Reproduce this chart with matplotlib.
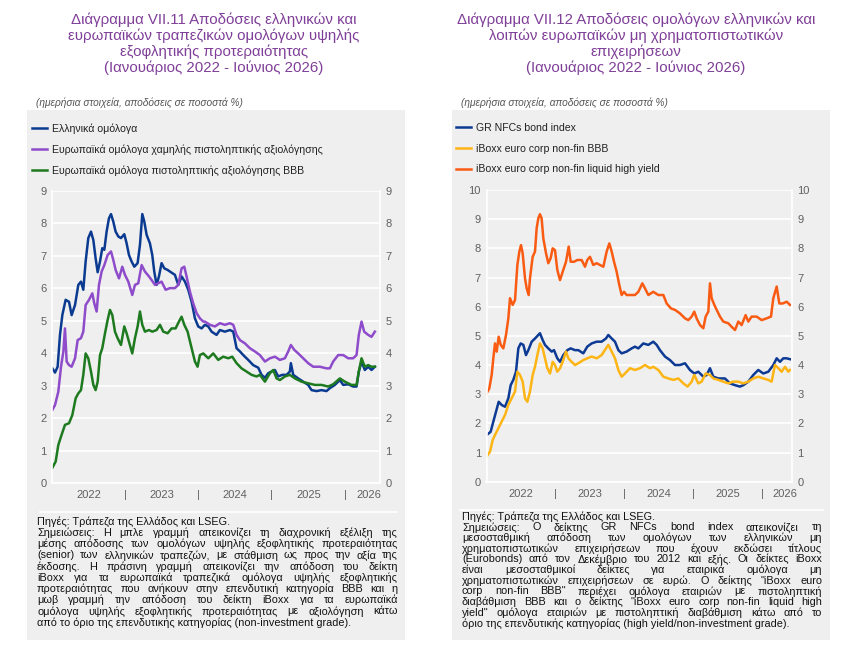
import numpy as np
import matplotlib
matplotlib.use("Agg")
import matplotlib.pyplot as plt
from matplotlib.patches import Rectangle
from matplotlib.lines import Line2D

plt.rcParams['font.family'] = ['Liberation Sans', 'DejaVu Sans']

# ---------------- data (years since Jan 2022, yield %) ----------------
# chart VII.11
gr_bank_t = [0.005,0.041,0.077,0.109,0.141,0.186,0.232,0.268,0.314,0.359,0.395,0.427,0.459,0.495,0.532,0.564,
             0.595,0.623,0.655,0.686,0.714,0.745,0.777,0.805,0.836,0.868,0.905,0.941,0.986,1.018,1.05,1.086,
             1.123,1.168,1.2,1.232,1.259,1.291,1.336,1.368,1.395,1.427,1.459,1.495,1.532,1.577,1.623,1.677,
             1.723,1.768,1.814,1.859,1.905,1.95,1.995,2.041,
             2.086,2.132,2.177,2.245,2.291,2.359,2.427,2.473,2.518,2.564,2.609,2.677,2.745,2.814,2.859,2.905,
             2.95,2.995,3.041,3.086,3.141,3.2,3.245,3.259,3.291,3.359,3.427,3.495,3.541,3.609,3.677,3.745,
             3.791,3.859,3.927,3.973,4.041,4.109,4.155,4.186,4.223,4.268,4.314,4.359,4.405]
gr_bank_v = [3.53,3.4,3.58,4.56,5.17,5.64,5.58,5.17,5.48,6.1,6.2,5.95,6.82,7.54,7.74,7.48,
             6.92,6.49,6.82,7.23,7.18,7.74,8.15,8.28,8.05,7.74,7.59,7.54,7.66,7.38,7.02,6.82,
             6.66,6.77,7.33,8.28,8.05,7.64,7.38,7.02,6.51,6.1,6.36,6.77,6.61,6.56,6.49,6.41,
             6.1,6.36,6.2,5.95,5.58,5.07,4.82,4.76,
             4.87,4.82,4.66,4.56,4.71,4.66,4.71,4.66,4.15,4.05,3.94,3.79,3.63,3.55,3.33,3.24,
             3.38,3.43,3.48,3.28,3.33,3.33,3.43,3.69,3.33,3.22,3.12,3.02,2.86,2.83,2.86,2.83,
             2.92,3.02,3.17,3.02,3.04,2.97,2.97,3.43,3.74,3.48,3.58,3.48,3.58]

eu_hy_t = [0.005,0.041,0.086,0.123,0.155,0.177,0.2,0.232,0.268,0.314,0.35,0.395,0.427,0.459,0.505,0.55,
           0.577,0.609,0.641,0.677,0.714,0.759,0.805,0.836,0.868,0.914,0.959,0.995,1.041,1.095,1.132,1.177,
           1.223,1.268,1.323,1.359,1.405,1.45,1.495,1.55,1.609,1.677,1.723,1.768,1.805,1.836,1.882,1.927,
           1.973,2.018,2.064,
           2.086,2.155,2.223,2.291,2.359,2.427,2.473,2.518,2.564,2.632,2.7,2.768,2.836,2.905,2.973,3.041,
           3.109,3.177,3.223,3.259,3.305,3.359,3.427,3.495,3.564,3.655,3.745,3.791,3.836,3.905,3.973,4.041,
           4.109,4.155,4.186,4.223,4.259,4.314,4.359,4.405]
eu_hy_v = [2.25,2.4,2.81,3.58,4.05,4.76,3.74,3.63,3.58,3.84,4.4,4.46,4.66,5.48,5.64,5.84,
           5.53,5.28,6.1,6.51,6.71,7.02,7.13,6.87,6.56,6.3,6.66,6.41,6.2,5.79,6.1,6.15,
           6.71,6.51,6.36,6.25,6.1,6.15,6.2,5.95,6.0,6.0,6.1,6.61,6.66,6.36,5.89,5.53,
           5.23,5.07,4.97,
           4.97,4.87,4.82,4.92,4.87,4.92,4.87,4.56,4.4,4.3,4.15,4.05,3.94,3.74,3.84,3.89,
           3.79,3.84,4.05,4.25,4.1,3.99,3.84,3.69,3.58,3.58,3.53,3.53,3.74,3.94,3.94,3.84,
           3.84,3.94,4.56,4.97,4.66,4.56,4.5,4.66]

eu_bbb_t = [0.005,0.05,0.086,0.123,0.177,0.232,0.277,0.323,0.359,0.395,0.427,0.459,0.495,0.532,0.564,0.595,
            0.623,0.655,0.686,0.723,0.759,0.791,0.823,0.859,0.895,0.941,0.986,1.018,1.05,1.095,1.132,1.168,
            1.2,1.232,1.268,1.323,1.368,1.427,1.473,1.518,1.577,1.632,1.686,1.732,1.768,1.805,1.85,1.905,
            1.95,1.986,2.018,2.064,
            2.086,2.132,2.2,2.268,2.336,2.405,2.459,2.518,2.586,2.655,2.723,2.791,2.836,2.905,2.973,3.018,
            3.064,3.109,3.177,3.245,3.314,3.405,3.495,3.586,3.677,3.768,3.836,3.927,3.995,4.086,4.155,4.186,
            4.223,4.268,4.314,4.359,4.405]
eu_bbb_v = [0.47,0.66,1.17,1.43,1.79,1.84,2.09,2.61,2.76,2.86,3.33,3.99,3.84,3.43,3.02,2.86,
            3.12,3.94,4.15,4.61,5.02,5.33,5.17,4.66,4.46,4.25,4.82,4.61,4.35,3.99,4.46,4.82,
            5.28,4.87,4.66,4.71,4.66,4.71,4.87,4.66,4.61,4.76,4.76,4.97,5.12,4.87,4.66,4.15,
            3.74,3.58,3.94,3.99,
            3.94,3.84,3.99,3.79,3.89,3.84,3.89,3.69,3.53,3.43,3.33,3.28,3.33,3.12,3.38,3.48,
            3.22,3.17,3.28,3.33,3.22,3.12,3.07,3.02,3.02,2.97,3.04,3.22,3.12,3.02,3.02,3.43,
            3.84,3.58,3.63,3.58,3.58]

# chart VII.12
gr_nfc_t = [0.002,0.06,0.099,0.138,0.177,0.22,0.269,0.317,0.351,0.389,0.428,0.462,0.496,0.535,0.573,0.607,
            0.656,0.704,0.752,0.776,0.815,0.849,0.897,0.946,0.98,1.028,1.067,1.115,1.173,1.222,1.284,1.333,
            1.405,1.463,1.526,1.599,1.671,1.734,1.768,1.817,1.865,1.914,1.962,2.034,2.107,
            2.155,2.204,2.276,2.349,2.421,2.47,2.518,2.591,2.663,2.736,2.808,2.881,2.953,3.016,3.074,3.147,
            3.196,3.244,3.292,3.365,3.461,3.534,3.607,3.679,3.728,3.8,3.873,3.945,4.018,4.09,4.163,4.212,
            4.26,4.308,4.357,4.405]
gr_nfc_v = [1.6,1.71,2.06,2.4,2.74,2.63,2.57,2.86,3.31,3.49,3.77,4.57,4.74,4.69,4.34,4.51,
            4.8,4.91,5.03,5.09,4.86,4.69,4.57,4.46,4.51,4.23,4.11,4.34,4.51,4.57,4.51,4.51,
            4.4,4.63,4.74,4.8,4.8,4.91,5.03,4.91,4.8,4.51,4.4,4.46,4.57,
            4.63,4.57,4.74,4.69,4.8,4.69,4.51,4.29,4.17,4.0,4.0,4.06,3.83,3.71,3.77,3.6,
            3.66,3.89,3.6,3.54,3.54,3.37,3.31,3.26,3.31,3.43,3.66,3.83,3.71,3.77,4.0,4.23,
            4.11,4.23,4.23,4.2]

ibx_bbb_t = [0.002,0.051,0.09,0.123,0.172,0.22,0.269,0.317,0.365,0.414,0.448,0.486,0.525,0.559,0.593,0.631,
             0.67,0.704,0.738,0.776,0.815,0.849,0.883,0.922,0.96,0.994,1.028,1.067,1.106,1.154,1.188,1.236,
             1.284,1.333,1.405,1.463,1.526,1.599,1.671,1.734,1.768,1.817,1.865,1.914,1.962,2.01,2.083,
             2.155,2.228,2.3,2.373,2.421,2.494,2.567,2.639,2.712,2.784,2.857,2.919,2.978,3.016,3.074,3.123,
             3.181,3.244,3.292,3.365,3.437,3.51,3.582,3.655,3.728,3.8,3.873,3.945,4.018,4.09,4.139,4.187,
             4.236,4.284,4.333,4.381,4.405]
ibx_bbb_v = [0.86,1.03,1.43,1.6,1.83,2.06,2.29,2.63,2.86,3.09,3.77,3.66,3.43,2.86,2.74,3.09,
             3.66,3.94,4.34,4.74,4.57,4.23,3.89,3.71,4.11,4.0,3.77,3.89,4.11,4.46,4.23,4.11,
             4.0,4.06,4.17,4.23,4.29,4.23,4.34,4.57,4.69,4.46,4.23,3.83,3.6,3.71,3.89,
             3.83,3.89,4.0,3.89,3.94,3.83,3.6,3.54,3.49,3.54,3.37,3.26,3.43,3.66,3.37,3.43,
             3.71,3.66,3.54,3.49,3.43,3.37,3.43,3.43,3.37,3.43,3.54,3.6,3.54,3.49,3.43,4.0,
             3.89,3.77,3.94,3.77,3.83]

ibx_hy_t = [0.002,0.041,0.075,0.099,0.123,0.148,0.177,0.206,0.244,0.283,0.317,0.341,0.38,0.414,0.448,0.477,
            0.501,0.525,0.559,0.583,0.612,0.631,0.67,0.704,0.728,0.752,0.776,0.8,0.825,0.864,0.897,0.931,
            0.96,0.994,1.028,1.067,1.106,1.154,1.193,1.222,1.27,1.318,1.381,1.43,1.463,1.502,1.55,1.599,
            1.647,1.696,1.744,1.783,1.817,1.851,1.889,1.928,1.962,1.996,2.034,2.107,
            2.155,2.204,2.262,2.3,2.349,2.421,2.494,2.567,2.615,2.678,2.736,2.808,2.881,2.929,2.978,3.016,
            3.05,3.099,3.147,3.181,3.22,3.244,3.268,3.307,3.341,3.389,3.437,3.51,3.558,3.607,3.655,3.703,
            3.761,3.8,3.849,3.921,3.994,4.066,4.129,4.163,4.212,4.25,4.299,4.357,4.405]
ibx_hy_v = [3.03,3.2,3.66,4.23,4.74,4.46,4.97,4.69,4.57,5.03,5.6,6.29,6.06,6.23,7.43,7.89,
            8.11,7.83,6.97,6.63,6.4,6.97,7.71,7.89,8.69,9.03,9.17,9.03,8.34,7.83,7.49,7.66,
            8.0,7.94,7.26,6.91,7.2,7.54,8.06,7.54,7.54,7.6,7.6,7.37,7.6,7.71,7.43,7.49,
            7.43,7.37,7.89,8.17,7.89,7.54,7.2,6.74,6.4,6.51,6.4,6.4,
            6.4,6.51,6.8,6.63,6.4,6.51,6.4,6.4,6.11,5.94,5.89,5.77,5.6,5.54,5.66,5.83,
            5.6,5.37,5.26,5.66,5.83,6.8,6.29,6.06,5.89,5.66,5.49,5.43,5.31,5.2,5.49,5.37,
            5.71,5.49,5.66,5.66,5.54,5.6,5.66,6.29,6.69,6.11,6.11,6.17,6.06]

year_ticks = [0.5, 1.0, 1.5, 2.0, 2.5, 3.0, 3.5, 4.0, 4.33]
year_labels = ['2022', '|', '2023', '|', '2024', '|', '2025', '|', '2026']

labels_11 = ['Ελληνικά ομόλογα',
             'Ευρωπαϊκά ομόλογα χαμηλής πιστοληπτικής αξιολόγησης',
             'Ευρωπαϊκά ομόλογα πιστοληπτικής αξιολόγησης BBB']
labels_12 = ['GR NFCs bond index', 'iBoxx euro corp non-fin BBB', 'iBoxx euro corp non-fin liquid high yield']

title_11 = ('Διάγραμμα VII.11 Αποδόσεις ελληνικών και\nευρωπαϊκών τραπεζικών ομολόγων υψηλής\n'
            'εξοφλητικής προτεραιότητας\n(Ιανουάριος 2022 - Ιούνιος 2026)')
title_12 = ('Διάγραμμα VII.12 Αποδόσεις ομολόγων ελληνικών και\nλοιπών ευρωπαϊκών μη χρηματοπιστωτικών\n'
            'επιχειρήσεων\n(Ιανουάριος 2022 - Ιούνιος 2026)')
subtitle = '(ημερήσια στοιχεία, αποδόσεις σε ποσοστά %)'

notes_11 = ['Πηγές: Τράπεζα της Ελλάδος και LSEG.',
            'Σημειώσεις: Η μπλε γραμμή απεικονίζει τη διαχρονική εξέλιξη της',
            'μέσης απόδοσης των ομολόγων υψηλής εξοφλητικής προτεραιότητας',
            '(senior) των ελληνικών τραπεζών, με στάθμιση ως προς την αξία της',
            'έκδοσης. Η πράσινη γραμμή απεικονίζει την απόδοση του δείκτη',
            'iBoxx για τα ευρωπαϊκά τραπεζικά ομόλογα υψηλής εξοφλητικής',
            'προτεραιότητας που ανήκουν στην επενδυτική κατηγορία BBB και η',
            'μωβ γραμμή την απόδοση του δείκτη iBoxx για τα ευρωπαϊκά',
            'ομόλογα υψηλής εξοφλητικής προτεραιότητας με αξιολόγηση κάτω',
            'από το όριο της επενδυτικής κατηγορίας (non-investment grade).']
notes_12 = ['Πηγές: Τράπεζα της Ελλάδος και LSEG.',
            'Σημειώσεις: Ο δείκτης GR NFCs bond index απεικονίζει τη',
            'μεσοσταθμική απόδοση των ομολόγων των ελληνικών μη',
            'χρηματοπιστωτικών επιχειρήσεων που έχουν εκδώσει τίτλους',
            '(Eurobonds) από τον Δεκέμβριο του 2012 και εξής. Οι δείκτες iBoxx',
            'είναι μεσοσταθμικοί δείκτες για εταιρικά ομόλογα μη',
            'χρηματοπιστωτικών επιχειρήσεων σε ευρώ. Ο δείκτης "iBoxx euro',
            'corp non-fin BBB" περιέχει ομόλογα εταιριών με πιστοληπτική',
            'διαβάθμιση BBB και ο δείκτης "iBoxx euro corp non-fin liquid high',
            'yield" ομόλογα εταιριών με πιστοληπτική διαβάθμιση κάτω από το',
            'όριο της επενδυτικής κατηγορίας (high yield/non-investment grade).']

# ---------------- layout ----------------
W, H = 857, 657
GRAY = '#efefef'
TICK = '#606060'
PURPLE = '#7f3f98'

fig = plt.figure(figsize=(W / 100, H / 100), dpi=100, facecolor='white')

def fx(px):
    return px / W

def fy(py):
    return 1 - py / H

# gray panels (behind the axes)
for left in (27, 452):
    fig.patches.append(Rectangle((fx(left), fy(640)), fx(378), 530 / H, transform=fig.transFigure,
                                 facecolor=GRAY, edgecolor='none', zorder=-5))

fig.text(fx(214), fy(44), title_11, ha='center', va='center', ma='center', fontsize=10.8,
         color=PURPLE, linespacing=1.12)
fig.text(fx(636), fy(44), title_12, ha='center', va='center', ma='center', fontsize=10.8,
         color=PURPLE, linespacing=1.12)
fig.text(fx(36), fy(103), subtitle, ha='left', va='center', fontsize=7.3, style='italic', color='#555555')
fig.text(fx(461), fy(103), subtitle, ha='left', va='center', fontsize=7.3, style='italic', color='#555555')


def make_axes(rect, ymax, xmax):
    ax = fig.add_axes(rect)
    ax.set_facecolor('none')
    ax.set_xlim(2022, 2022 + xmax)
    ax.set_ylim(0, ymax)
    ax.set_yticks(range(0, ymax + 1))
    ax.yaxis.grid(True, color='white', lw=1.2)
    ax.set_axisbelow(True)
    for s in ax.spines.values():
        s.set_color('white')
        s.set_linewidth(1.2)
    ax.spines['top'].set_visible(False)
    ax.set_xticks([2022 + t for t in year_ticks])
    ax.set_xticklabels(year_labels)
    ax.tick_params(axis='both', length=0, labelsize=8, colors=TICK)
    ax.tick_params(axis='y', right=True, labelright=True, pad=4)
    ax.tick_params(axis='x', pad=5)
    return ax


ax1 = make_axes([fx(52), fy(483), fx(328), (483 - 190.7) / H], 9, 4.475)
ax1.plot(np.array(gr_bank_t) + 2022, gr_bank_v, color='#0b3b91', lw=1.8, label=labels_11[0])
ax1.plot(np.array(eu_hy_t) + 2022, eu_hy_v, color='#8e4ccb', lw=1.8, label=labels_11[1])
ax1.plot(np.array(eu_bbb_t) + 2022, eu_bbb_v, color='#1d7a1f', lw=1.8, label=labels_11[2])

ax2 = make_axes([fx(486.5), fy(481.7), fx(305.2), (481.7 - 190) / H], 10, 4.43)
ax2.plot(np.array(gr_nfc_t) + 2022, gr_nfc_v, color='#0d3a94', lw=1.8, label=labels_12[0])
ax2.plot(np.array(ibx_bbb_t) + 2022, ibx_bbb_v, color='#fdb515', lw=1.8, label=labels_12[1])
ax2.plot(np.array(ibx_hy_t) + 2022, ibx_hy_v, color='#f95b12', lw=1.8, label=labels_12[2])

for ax, x0 in ((ax1, 30), (ax2, 454)):
    h, l = ax.get_legend_handles_labels()
    fig.legend(h, l, loc='upper left', bbox_to_anchor=(fx(x0), fy(121)), frameon=False,
               fontsize=7.6, handlelength=1.45, handletextpad=0.4, labelspacing=1.0,
               borderaxespad=0, borderpad=0.2, labelcolor='#222222')

# notes, justified like the source
renderer = fig.canvas.get_renderer()

def draw_notes(lines, x0, x1, ytop, pitch, size):
    for i, line in enumerate(lines):
        y = fy(ytop + i * pitch)
        if i == 0 or i == len(lines) - 1:
            fig.text(fx(x0), y, line, ha='left', va='center', fontsize=size, color='#111111')
            continue
        words = line.split()
        arts = [fig.text(0, y, w, ha='left', va='center', fontsize=size, color='#111111') for w in words]
        widths = [a.get_window_extent(renderer).width for a in arts]
        gap = (x1 - x0 - sum(widths)) / (len(words) - 1)
        x = x0
        for a, w in zip(arts, widths):
            a.set_x(fx(x))
            x += w + gap

fig.add_artist(Line2D([fx(40), fx(397)], [fy(512), fy(512)], color='white', lw=1.2))
fig.add_artist(Line2D([fx(460), fx(823)], [fy(510), fy(510)], color='white', lw=1.2))
draw_notes(notes_11, 37, 398, 521.7, 11.2, 7.8)
draw_notes(notes_12, 462, 822, 516.7, 10.67, 7.8)

fig.savefig('out.png', dpi=100, facecolor='white')
